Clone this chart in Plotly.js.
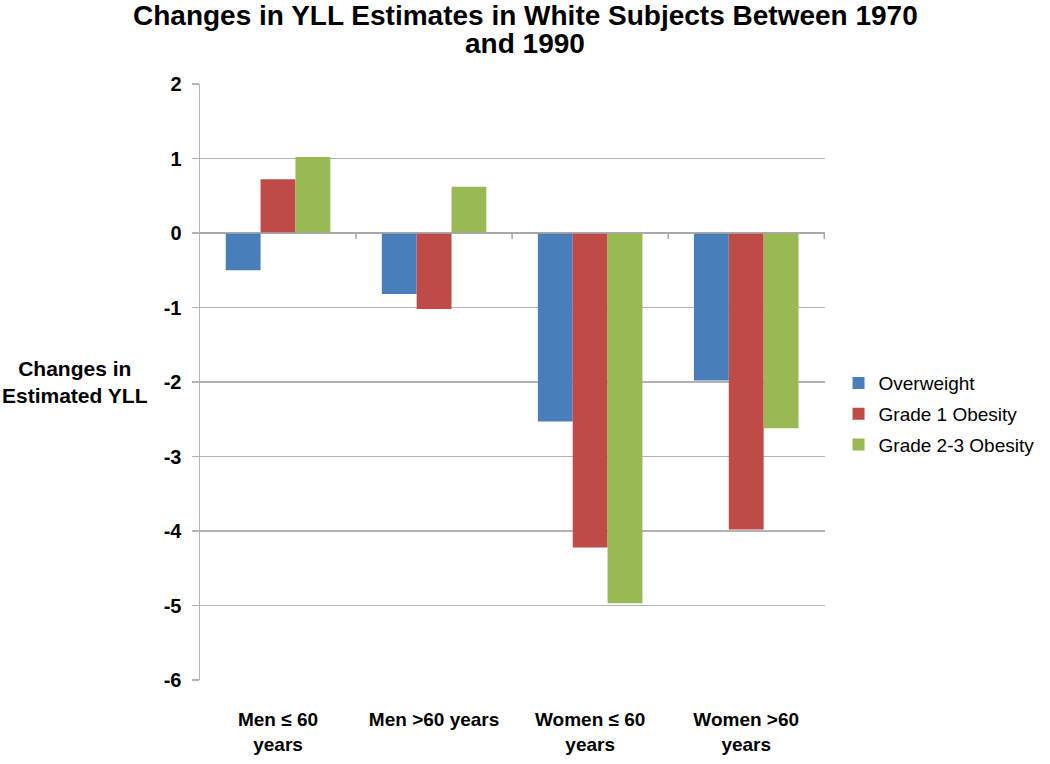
<!DOCTYPE html>
<html>
<head>
<meta charset="utf-8">
<script src="https://cdn.plot.ly/plotly-3.0.1.min.js"></script>
<style>html,body{margin:0;padding:0;background:#fff;}#chart{width:1050px;height:764px;}</style>
</head>
<body>
<div id="chart"></div>
<script>
var categories = ["Men \u2264 60<br>years", "Men >60 years", "Women \u2264 60<br>years", "Women >60<br>years"];
var seriesNames = ["Overweight", "Grade 1 Obesity", "Grade 2-3 Obesity"];
var overweight = [-0.50, -0.82, -2.53, -1.98];
var grade1 = [0.72, -1.02, -4.22, -3.98];
var grade23 = [1.02, 0.62, -4.97, -2.62];
var yTicks = [2, 1, 0, -1, -2, -3, -4, -5, -6];
var titleLines = ["Changes in YLL Estimates in White Subjects Between 1970", "and 1990"];

var colors = ["#4a7ebb", "#be4b48", "#98b954"];
var values = [overweight, grade1, grade23];
var font = "Liberation Sans, Arial, sans-serif";

var traces = values.map(function (v, i) {
  return {
    type: "bar",
    x: categories,
    y: v,
    name: seriesNames[i],
    legendgroup: "g" + i,
    marker: {color: colors[i], line: {width: 0}}
  };
});

var shapes = [{
  type: "line", xref: "paper", yref: "y", x0: 0, x1: 1, y0: 0, y1: 0,
  line: {color: "#a6a6a6", width: 1.5}
}];
for (var i = 0; i < categories.length; i++) {
  shapes.push({
    type: "line", xref: "x", yref: "y", ysizemode: "pixel", yanchor: 0,
    x0: i + 0.5, x1: i + 0.5, y0: 0, y1: -6,
    line: {color: "#a6a6a6", width: 1.5}
  });
}

var annotations = titleLines.map(function (t, k) {
  return {
    xref: "paper", yref: "paper", x: 0.52, y: 1 + (69 - 28 * k) / 596,
    xanchor: "center", yanchor: "middle",
    text: "<b>" + t + "</b>", showarrow: false,
    font: {family: font, size: 28, color: "#000"}
  };
});
annotations.push({
  xref: "paper", yref: "paper", x: -0.2, y: 0.5, xanchor: "center", yanchor: "middle",
  text: "<b>Changes in<br>Estimated YLL</b>", showarrow: false,
  font: {family: font, size: 21, color: "#000"}, align: "center"
});

var layout = {
  width: 1050, height: 764,
  paper_bgcolor: "#fff", plot_bgcolor: "#fff",
  margin: {l: 200, r: 224, t: 84, b: 84},
  barmode: "group",
  bargap: 0.33,
  bargroupgap: 0,
  xaxis: {
    type: "category",
    showgrid: false, zeroline: false, showline: false,
    ticks: "",
    tickfont: {family: font, size: 19, color: "#000", weight: "bold"},
    ticklabelstandoff: 26
  },
  yaxis: {
    range: [-6, 2],
    tickvals: yTicks,
    ticktext: yTicks.map(function (t) { return "<b>" + t + "</b>"; }),
    showgrid: true, gridcolor: "#b3b3b3", gridwidth: 1.5,
    zeroline: false,
    showline: true, linecolor: "#b3b3b3", linewidth: 1.5,
    ticks: "outside", ticklen: 7, tickcolor: "#b3b3b3", tickwidth: 1.5,
    tickfont: {family: font, size: 20, color: "#000"},
    ticklabelstandoff: 6
  },
  legend: {
    x: 1.02, xanchor: "left", y: 0.446, yanchor: "middle",
    font: {family: font, size: 19, color: "#000"},
    traceorder: "grouped",
    tracegroupgap: 3, itemwidth: 30
  },
  shapes: shapes,
  annotations: annotations
};

Plotly.newPlot("chart", traces, layout, {displayModeBar: false, staticPlot: true});
</script>
</body>
</html>
